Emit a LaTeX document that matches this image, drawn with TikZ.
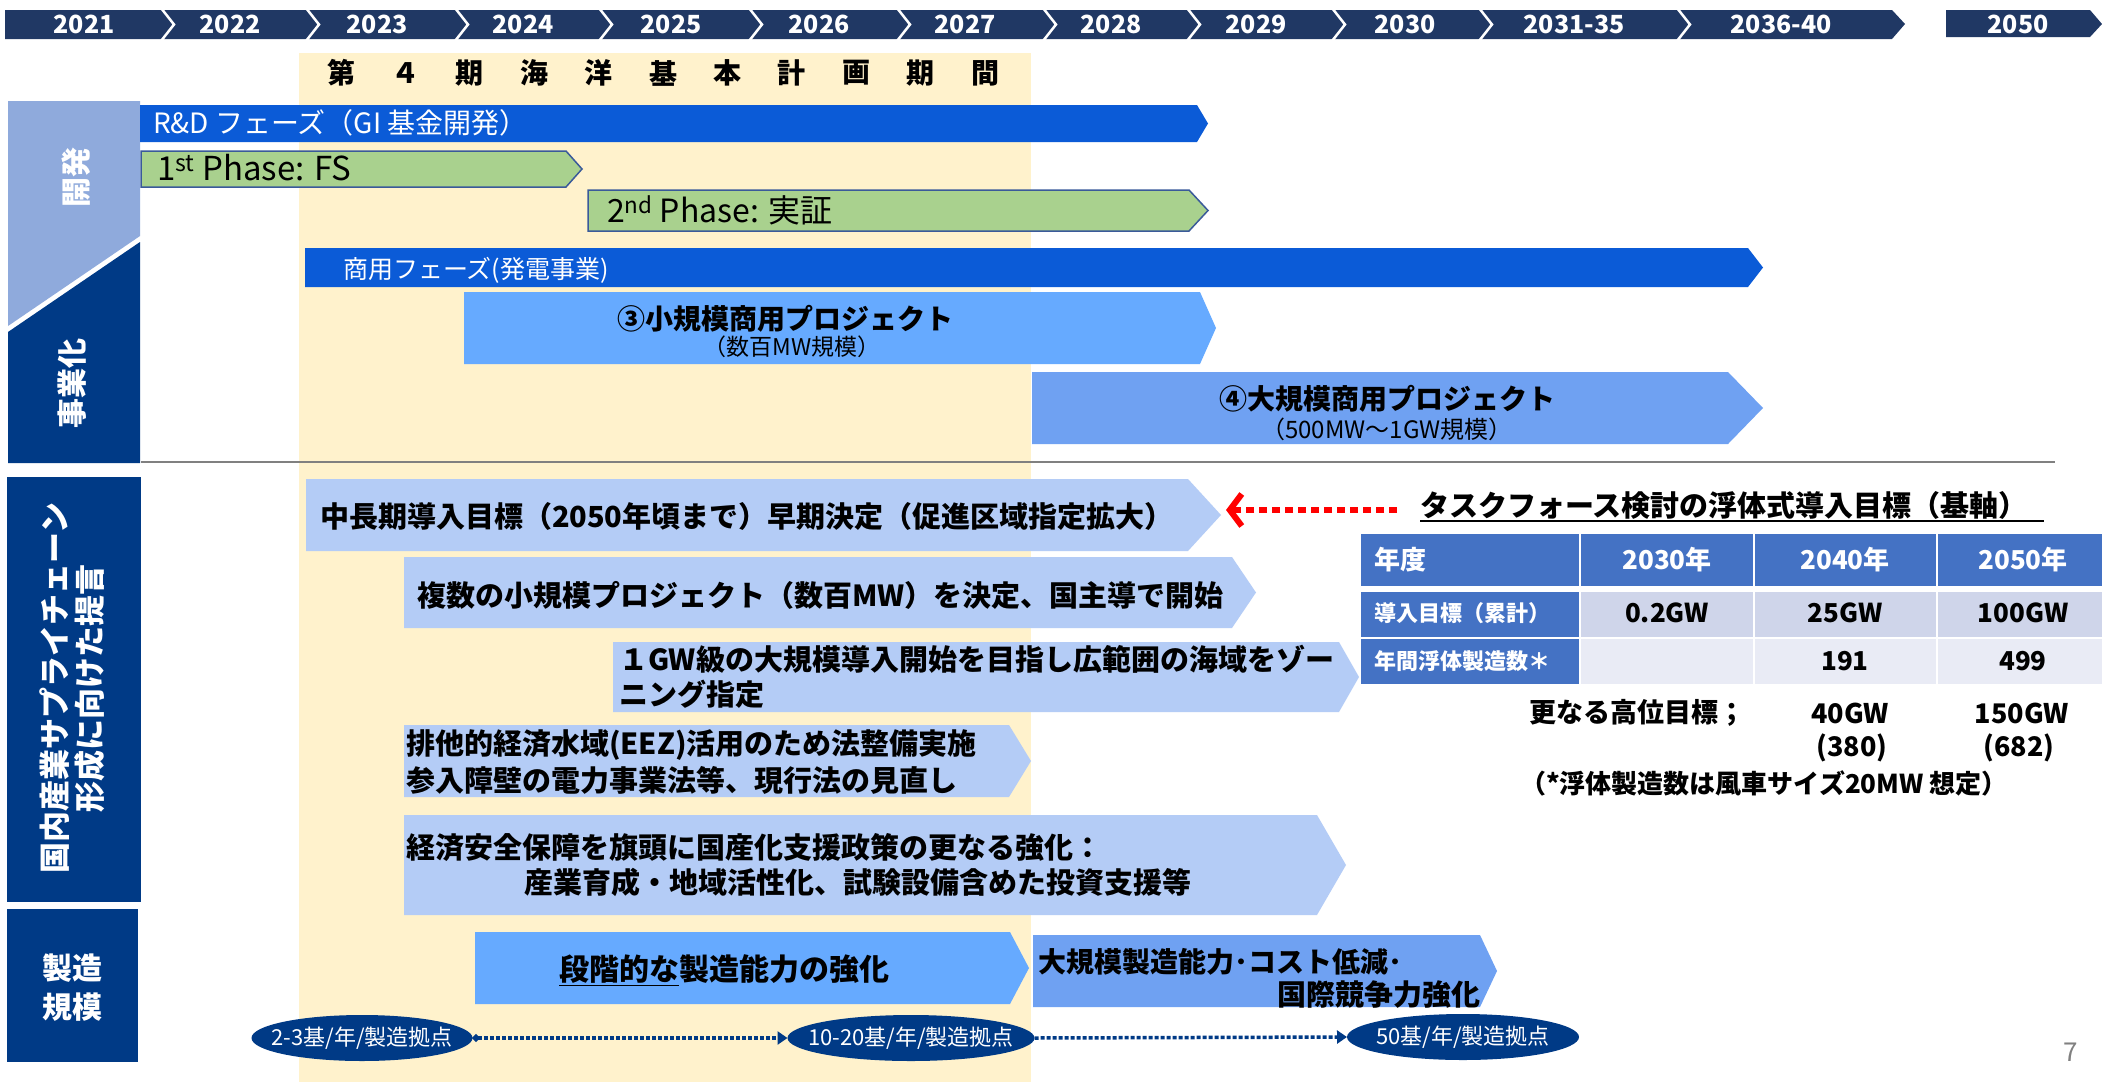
\documentclass[tikz,border=0pt]{standalone}
\usepackage{fontspec}
\setmainfont{Noto Sans CJK JP}
\usetikzlibrary{arrows.meta,shapes.geometric}
\definecolor{tl}{HTML}{203864}
\definecolor{lb}{HTML}{8FAADC}
\definecolor{nv}{HTML}{003A86}
\definecolor{rdblue}{HTML}{0B5BD7}
\definecolor{grn}{HTML}{A9D18E}
\definecolor{grnb}{HTML}{3A5A9A}
\definecolor{brblue}{HTML}{66AAFF}
\definecolor{mdblue}{HTML}{6FA1F2}
\definecolor{ltblue}{HTML}{B4CCF6}
\definecolor{yel}{HTML}{FFF2CC}
\definecolor{thd}{HTML}{4472C4}
\definecolor{tra}{HTML}{CFD5EA}
\definecolor{trb}{HTML}{E9EBF5}
\definecolor{redd}{HTML}{FF0000}
\newcommand\fsz[2]{\fontsize{#1}{#2}\selectfont}
\newcommand\arrowbar[6]{\path[#6] (#1,#2) -- (#3,#2) -- (#4,{(#2+#5)/2}) -- (#3,#5) -- (#1,#5) -- cycle;}
\newcommand\tcell[5]{\fill[#5] (#1,#2) rectangle (#3,#4);}
\begin{document}
\begin{tikzpicture}[x=1pt,y=-1pt,
  every node/.style={inner sep=0pt,outer sep=0pt},
  yr/.style={text=white,font=\fsz{25}{25}\bfseries},
  lbl/.style={text=white,font=\fsz{30}{30}\bfseries},
  bk/.style={text=black,font=\fsz{29}{29}\bfseries,anchor=west},
  wt/.style={text=white,anchor=west},
  ell/.style={ellipse,fill=nv,minimum height=46pt},
  ellt/.style={text=white,font=\fsz{22}{22}},
  th/.style={text=white,font=\fsz{26}{26}\bfseries},
  tv/.style={text=black,font=\fsz{26}{26}\bfseries},
  tl1/.style={text=white,font=\fsz{22}{22}\bfseries,anchor=west},
  bl/.style={text=black,font=\fsz{27}{27}\bfseries}
]
\useasboundingbox (0,0) rectangle (2102,1082);
\fill[white] (0,0) rectangle (2102,1082);
% yellow band
\fill[yel] (299,53) rectangle (1031,1082);
\foreach \c [count=\i] in {第,４,期,海,洋,基,本,計,画,期,間}
  \node[font=\fsz{28}{28}\bfseries] (ti\i) at ({341+(\i-1)*64.4},73) {\c};
% timeline
\fill[tl] (5,10) -- (1892,10) -- (1905,24) -- (1892,39) -- (5,39) -- cycle;
\foreach \b in {161,306,455,599,749,897,1043,1187,1332,1479,1677}
  \draw[white,line width=2.5pt] (\b,8) -- (\b+13,24.5) -- (\b,41);
\fill[tl] (1946,10) -- (2090,10) -- (2102,24) -- (2090,37) -- (1946,37) -- cycle;
\foreach \x/\t [count=\i] in {84/2021,230/2022,377/2023,523/2024,671/2025,819/2026,965/2027,1111/2028,1256/2029,1405/2030,1574/2031-35,1781/2036-40,2018/2050}
  \node[yr] (yr\i) at (\x,24) {\t};
% left labels
\fill[lb] (8,101) -- (140,101) -- (140,236) -- (8,326) -- cycle;
\fill[nv] (8,332) -- (140,242) -- (140,463) -- (8,463) -- cycle;
\node[lbl,rotate=90] (kaihatsu) at (76,177) {開発};
\node[lbl,rotate=90] (jigyo) at (72,383) {事業化};
\fill[nv] (7,477) rectangle (141,902);
\node[lbl,rotate=90,align=center,font=\fsz{31}{35}\bfseries] (teigen) at (72,688) {国内産業サプライチェーン\\形成に向けた提言};
\fill[nv] (7,909) rectangle (138,1062);
\node[lbl,align=center,font=\fsz{30}{39}\bfseries] (seizo) at (72,988) {製造\\規模};
\draw[gray,line width=2pt] (141,462) -- (2055,462);
% upper bars
\arrowbar{140}{105}{1197}{1208}{142}{fill=rdblue}
\node[wt,font=\fsz{28}{28}] (rd) at (153,123) {R\&D フェーズ（GI 基金開発）};
\arrowbar{141}{151}{566}{582}{187}{fill=grn,draw=grnb,line width=1.5pt}
\node[anchor=west,font=\fsz{33}{33}] (ph1) at (157,168) {1\textsuperscript{st} Phase: FS};
\arrowbar{588}{190}{1189}{1208}{231}{fill=grn,draw=grnb,line width=1.5pt}
\node[anchor=west,font=\fsz{32}{32}] (ph2) at (607,210) {2\textsuperscript{nd} Phase: 実証};
\arrowbar{305}{248}{1748}{1763}{287}{fill=rdblue}
\node[wt,font=\fsz{25}{25}] (shoyo) at (343,270) {商用フェーズ(発電事業)};
\arrowbar{464}{292}{1200}{1216}{364}{fill=brblue}
\node[font=\fsz{28}{28}\bfseries] (p3) at (785,319) {③小規模商用プロジェクト};
\node[font=\fsz{23}{23}] (p3s) at (792,347) {（数百MW規模）};
\arrowbar{1032}{372}{1728}{1763}{444}{fill=mdblue}
\node[font=\fsz{28}{28}\bfseries] (p4) at (1387,399) {④大規模商用プロジェクト};
\node[font=\fsz{24}{24}] (p4s) at (1387,429) {（500MW～1GW規模）};
% lower bars
\arrowbar{306}{479}{1188}{1221}{551}{fill=ltblue}
\coordinate (b7tip) at (1226,510);
\node[bk] (b7) at (320,516) {中長期導入目標（2050年頃まで）早期決定（促進区域指定拡大）};
\arrowbar{404}{557}{1232}{1256}{628}{fill=ltblue}
\node[bk] (b8) at (417,595) {複数の小規模プロジェクト（数百MW）を決定、国主導で開始};
\arrowbar{613}{642}{1339}{1359}{712}{fill=ltblue}
\node[bk] (b9a) at (619,659) {１GW級の大規模導入開始を目指し広範囲の海域をゾー};
\node[bk] (b9b) at (619,694) {ニング指定};
\arrowbar{404}{725}{1009}{1031}{797}{fill=ltblue}
\node[bk] (b10a) at (406,745) {排他的経済水域(EEZ)活用のため法整備実施};
\node[bk] (b10b) at (406,780) {参入障壁の電力事業法等、現行法の見直し};
\arrowbar{404}{815}{1317}{1346}{915}{fill=ltblue}
\node[bk] (b11a) at (406,847) {経済安全保障を旗頭に国産化支援政策の更なる強化：};
\node[bk] (b11b) at (524,882) {産業育成・地域活性化、試験設備含めた投資支援等};
\arrowbar{475}{932}{1010}{1029}{1004}{fill=brblue}
\node[text=black,font=\fsz{30}{30}\bfseries] (b12) at (724,970) {\underline{段階的な}製造能力の強化};
\arrowbar{1033}{935}{1480}{1497}{1007}{fill=mdblue}
\node[bk,font=\fsz{28}{28}\bfseries] (b13a) at (1038,962) {大規模製造能力･コスト低減･};
\node[text=black,font=\fsz{29}{29}\bfseries,anchor=east] (b13b) at (1480,995) {国際競争力強化};
% ellipses
\node[ell,minimum width=221pt] (e1) at (362,1038) {};
\node[ellt] (e1t) at (e1.center) {2-3基/年/製造拠点};
\node[ell,minimum width=247pt] (e2) at (911,1038) {};
\node[ellt] (e2t) at (e2.center) {10-20基/年/製造拠点};
\node[ell,minimum width=232pt] (e3) at (1463,1037) {};
\node[ellt] (e3t) at (e3.center) {50基/年/製造拠点};
\draw[nv,line width=3.5pt,dash pattern=on 4pt off 2pt,{Circle[length=7pt]}-{Triangle[length=10pt,width=13pt]}] (e1.east) -- (e2.west);
\draw[nv,line width=3.5pt,dash pattern=on 4pt off 2pt,-{Triangle[length=10pt,width=13pt]}] (e2.east) -- (e3.west);
% task force title and red arrow
\node[text=black,font=\fsz{29}{29}\bfseries,anchor=west] (tf) at (1420,505) {タスクフォース検討の浮体式導入目標（基軸）};
\draw[line width=1.5pt] (1420,521) -- (2044,521);
\coordinate (rs) at ([xshift=-23pt]tf.west);
\draw[redd,line width=6pt,dash pattern=on 8pt off 5pt,-{Straight Barb[length=12pt,width=32pt,line width=6pt]}] (rs |- b7tip) -- (b7tip);
% table
\tcell{1361}{534}{1579}{586}{thd}
\tcell{1581}{534}{1753}{586}{thd}
\tcell{1755}{534}{1936}{586}{thd}
\tcell{1938}{534}{2102}{586}{thd}
\tcell{1361}{592}{1579}{637}{thd}
\tcell{1581}{592}{1753}{637}{tra}
\tcell{1755}{592}{1936}{637}{tra}
\tcell{1938}{592}{2102}{637}{tra}
\tcell{1361}{639}{1579}{684}{thd}
\tcell{1581}{639}{1753}{684}{trb}
\tcell{1755}{639}{1936}{684}{trb}
\tcell{1938}{639}{2102}{684}{trb}
\node[th,anchor=west] (h0) at (1374,560) {年度};
\node[th] (h1) at (1667,560) {2030年};
\node[th] (h2) at (1845,560) {2040年};
\node[th] (h3) at (2023,560) {2050年};
\node[tl1] (r1c0) at (1374,613) {導入目標（累計）};
\node[tv] (r1c1) at (1667,613) {0.2GW};
\node[tv] (r1c2) at (1845,613) {25GW};
\node[tv] (r1c3) at (2023,613) {100GW};
\node[tl1] (r2c0) at (1374,661) {年間浮体製造数＊};
\node[tv] (r2c2) at (1845,661) {191};
\node[tv] (r2c3) at (2023,661) {499};
\node[bl] (hi) at (1637,713) {更なる高位目標；};
\node[bl] (h40) at (1850,713) {40GW};
\node[bl] (h150) at (2022,713) {150GW};
\node[bl] (p380) at (1852,748) {(380)};
\node[bl] (p682) at (2019,748) {(682)};
\node[bl,font=\fsz{26}{26}\bfseries] (note) at (1764,783) {（*浮体製造数は風車サイズ20MW 想定）};
\node[text=gray,font=\fsz{26}{26}] (pg) at (2071,1052) {7};
\end{tikzpicture}
\end{document}
